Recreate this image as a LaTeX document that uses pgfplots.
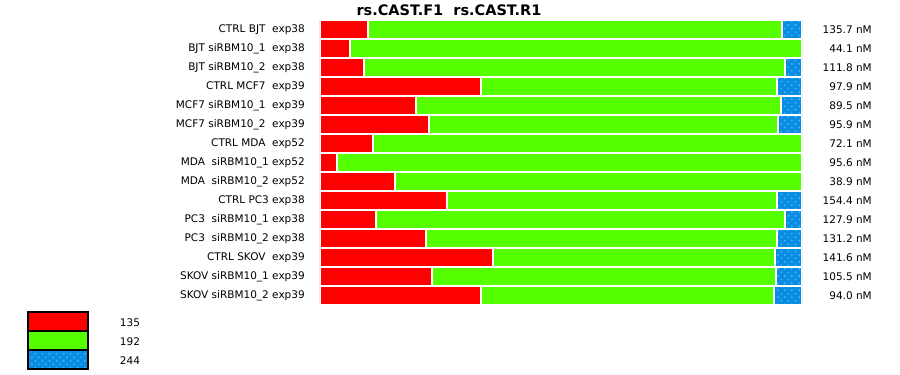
\documentclass[border=0pt]{standalone}
\usepackage{fontspec}
\setmainfont{DejaVu Sans}
\usepackage{pgfplots}
\pgfplotsset{compat=1.18}
\usetikzlibrary{patterns.meta}
\definecolor{cred}{RGB}{255,0,0}
\definecolor{cgreen}{RGB}{85,255,0}
\definecolor{cblue}{RGB}{10,140,225}
\definecolor{cbluedot}{RGB}{60,180,255}
\pgfplotsset{
  boxlegend/.style={legend image code/.code={%
    \pgfpathrectangle{\pgfpoint{0pt}{-9.5pt}}{\pgfpoint{92pt}{19pt}}%
    \pgfusepath{use as bounding box}%
    \draw[##1,draw=black,line width=2pt] (0pt,-9.5pt) rectangle (60pt,9.5pt);
  }},
  segbar/.style={draw=white,line width=2pt,boxlegend},
}
\begin{document}
\begin{tikzpicture}
\useasboundingbox (0,0) rectangle (900pt,375pt);
\begin{axis}[
  at={(320pt,70pt)}, anchor=south west,
  scale only axis, width=482pt, height=285pt,
  xbar stacked, bar width=19pt,
  xmin=0, xmax=100, ymin=-0.5, ymax=14.5, y dir=reverse,
  axis line style={draw=none}, major tick length=0pt,
  xtick=\empty, ytick={0,...,14},
  yticklabels={CTRL BJT~~exp38, BJT siRBM10\_1~~exp38, BJT siRBM10\_2~~exp38,
    CTRL MCF7~~exp39, MCF7 siRBM10\_1~~exp39, MCF7 siRBM10\_2~~exp39,
    CTRL MDA~~exp52, MDA~~siRBM10\_1 exp52, MDA~~siRBM10\_2 exp52,
    CTRL PC3 exp38, PC3~~siRBM10\_1 exp38, PC3~~siRBM10\_2 exp38,
    CTRL SKOV~~exp39, SKOV siRBM10\_1 exp39, SKOV siRBM10\_2 exp39},
  yticklabel style={font=\fontsize{10.5}{12}\selectfont, xshift=-11.7pt},
  title={rs.CAST.F1~~rs.CAST.R1},
  every axis title/.style={at={(axis description cs:0.2676,1)}, anchor=base, yshift=5pt,
    font=\bfseries\fontsize{14.5}{17}\selectfont},
  legend cell align=left,
  legend style={draw=none, fill=none, inner sep=0pt, outer sep=0pt, row sep=0pt, column sep=0pt,
    at={(axis description cs:-0.6058,-0.0245)}, anchor=north west,
    nodes={inner sep=0pt, yshift=-1.5pt, font=\fontsize{10.5}{12}\selectfont}},
]
\addplot[segbar, fill=cred] coordinates {
(10.0,0) (6.25,1) (9.2,2) (33.3,3) (20.0,4) (22.7,5) (11.0,6) (3.5,7)
(15.6,8) (26.25,9) (11.7,10) (21.9,11) (35.8,12) (23.3,13) (33.3,14)};
\addlegendentry{135}
\addplot[segbar, fill=cgreen] coordinates {
(85.9,0) (93.75,1) (87.3,2) (61.5,3) (75.6,4) (72.3,5) (89.0,6) (96.5,7)
(84.4,8) (68.55,9) (84.8,10) (72.9,11) (58.6,12) (71.3,13) (60.9,14)};
\addlegendentry{192}
\addplot[segbar, preaction={fill=cblue}, pattern={Dots[radius=1.1pt,distance=5pt,angle=45]}, pattern color=cbluedot] coordinates {
(4.1,0) (0,1) (3.5,2) (5.2,3) (4.4,4) (5.0,5) (0,6) (0,7)
(0,8) (5.2,9) (3.5,10) (5.2,11) (5.6,12) (5.4,13) (5.8,14)};
\addlegendentry{244}
\end{axis}
\begin{axis}[
  at={(320pt,70pt)}, anchor=south west,
  scale only axis, width=482pt, height=285pt,
  xmin=0, xmax=100, ymin=-0.5, ymax=14.5, y dir=reverse,
  axis line style={draw=none}, major tick length=0pt,
  xtick=\empty, ytick={0,...,14}, yticklabel pos=right,
  yticklabels={135.7 nM, 44.1 nM, 111.8 nM, 97.9 nM, 89.5 nM, 95.9 nM, 72.1 nM,
    95.6 nM, 38.9 nM, 154.4 nM, 127.9 nM, 131.2 nM, 141.6 nM, 105.5 nM, 94.0 nM},
  yticklabel style={anchor=east, xshift=73.3pt, font=\fontsize{10.5}{12}\selectfont},
]
\end{axis}
\end{tikzpicture}
\end{document}
